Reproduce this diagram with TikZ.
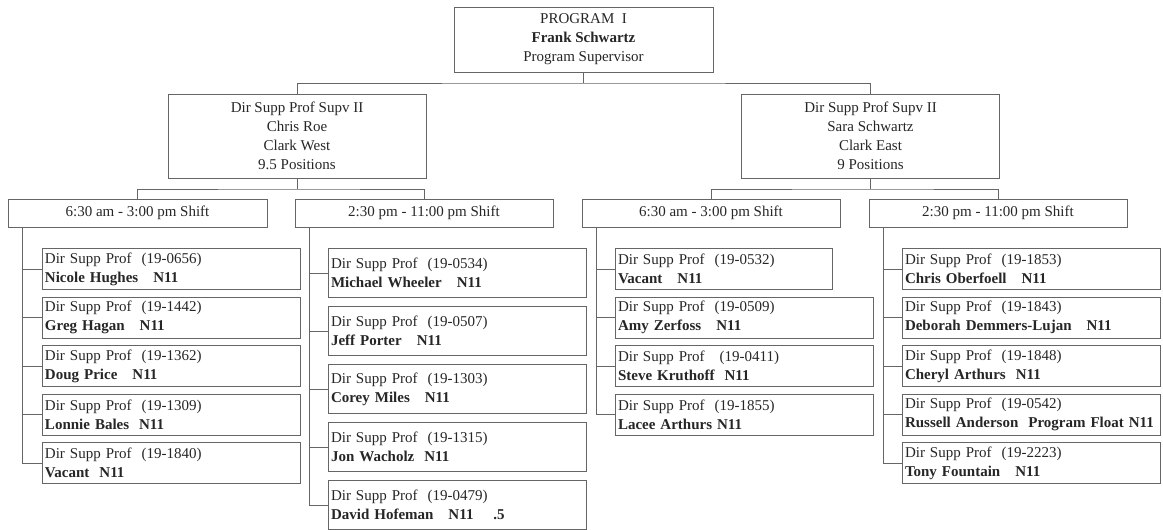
\documentclass[tikz,border=0pt]{standalone}
\usepackage{fontspec}
\setmainfont{Liberation Serif}
\begin{document}
\begin{tikzpicture}[x=1pt,y=-1pt,
  txt/.style={font=\fontsize{15}{19}\selectfont, text=black!85},
  box/.style={txt, draw=black!60, line width=1pt, inner sep=0pt, align=center},
  emp/.style={txt, draw=black!60, line width=1pt, inner xsep=2.5pt, inner ysep=0pt,
              align=left, anchor=north west, minimum height=41pt, text width=253pt},
  tall/.style={minimum height=49pt},
  short/.style={text width=212pt},
  conn/.style={draw=black!60, line width=1pt}]
\useasboundingbox (0,0) rectangle (1163,530);

% top
\node[box, minimum width=259pt, minimum height=65pt] (top) at (583.5,39.5)
  {PROGRAM\ \ I\\\textbf{Frank Schwartz}\\Program Supervisor};
% directors
\node[box, minimum width=258pt, minimum height=84pt] (d1) at (297,136)
  {Dir Supp Prof Supv II\\Chris Roe\\Clark West\\9.5 Positions};
\node[box, minimum width=258pt, minimum height=84pt] (d2) at (870.5,136)
  {Dir Supp Prof Supv II\\Sara Schwartz\\Clark East\\9 Positions};
% shifts
\node[box, minimum width=259pt, minimum height=28pt] (s1) at (137.5,213) {6:30 am - 3:00 pm Shift};
\node[box, minimum width=258pt, minimum height=28pt] (s2) at (424,213) {2:30 pm - 11:00 pm Shift};
\node[box, minimum width=258pt, minimum height=28pt] (s3) at (711,213) {6:30 am - 3:00 pm Shift};
\node[box, minimum width=258pt, minimum height=28pt] (s4) at (998,213) {2:30 pm - 11:00 pm Shift};

% column 1
\node[emp] (e11) at (42,248)   {Dir Supp Prof\ \ (19-0656)\\\textbf{Nicole Hughes\ \ \ N11}};
\node[emp] (e12) at (42,296.5) {Dir Supp Prof\ \ (19-1442)\\\textbf{Greg Hagan\ \ \ N11}};
\node[emp] (e13) at (42,345)   {Dir Supp Prof\ \ (19-1362)\\\textbf{Doug Price\ \ \ N11}};
\node[emp] (e14) at (42,393.5) {Dir Supp Prof\ \ (19-1309)\\\textbf{Lonnie Bales\ \ N11}};
\node[emp] (e15) at (42,442)   {Dir Supp Prof\ \ (19-1840)\\\textbf{Vacant\ \ N11}};
% column 2
\node[emp,tall] (e21) at (328,248) {Dir Supp Prof\ \ (19-0534)\\\textbf{Michael Wheeler\ \ \ N11}};
\node[emp,tall] (e22) at (328,306) {Dir Supp Prof\ \ (19-0507)\\\textbf{Jeff Porter\ \ \ N11}};
\node[emp,tall] (e23) at (328,364) {Dir Supp Prof\ \ (19-1303)\\\textbf{Corey Miles\ \ \ N11}};
\node[emp,tall] (e24) at (328,422) {Dir Supp Prof\ \ (19-1315)\\\textbf{Jon Wacholz\ \ N11}};
\node[emp,tall] (e25) at (328,480) {Dir Supp Prof\ \ (19-0479)\\\textbf{David Hofeman\ \ \ N11\ \ \ \ .5}};
% column 3
\node[emp,short] (e31) at (615,248)   {Dir Supp Prof\ \ (19-0532)\\\textbf{Vacant\ \ \ N11}};
\node[emp] (e32) at (615,296.5) {Dir Supp Prof\ \ (19-0509)\\\textbf{Amy Zerfoss\ \ \ N11}};
\node[emp] (e33) at (615,345)   {Dir Supp Prof\ \ \ (19-0411)\\\textbf{Steve Kruthoff\ \ N11}};
\node[emp] (e34) at (615,393.5) {Dir Supp Prof\ \ (19-1855)\\\textbf{Lacee Arthurs\ N11}};
% column 4
\node[emp] (e41) at (902,248)   {Dir Supp Prof\ \ (19-1853)\\\textbf{Chris Oberfoell\ \ \ N11}};
\node[emp] (e42) at (902,296.5) {Dir Supp Prof\ \ (19-1843)\\\textbf{Deborah Demmers-Lujan\ \ \ N11}};
\node[emp] (e43) at (902,345)   {Dir Supp Prof\ \ (19-1848)\\\textbf{Cheryl Arthurs\ \ N11}};
\node[emp] (e44) at (902,393.5) {Dir Supp Prof\ \ (19-0542)\\\textbf{Russell Anderson\ \ Program Float N11}};
\node[emp] (e45) at (902,442)   {Dir Supp Prof\ \ (19-2223)\\\textbf{Tony Fountain\ \ \ N11}};

% connectors: top level
\coordinate (j0) at (583.5,83);
\draw[conn] (top.south) -- (j0);
\draw[conn] (d1.north) |- (j0) -| (d2.north);
% director to shifts
\path (d1.south) ++(0,10.5) coordinate (j1);
\path (d2.south) ++(0,10.5) coordinate (j2);
\draw[conn] (d1.south) -- (j1);
\draw[conn] (s1.north) |- (j1) -| (s2.north);
\draw[conn] (d2.south) -- (j2);
\draw[conn] (s3.north) |- (j2) -| (s4.north);
% spines
\path (s1.south west) ++(15,0) coordinate (t1);
\path (s2.south west) ++(15,0) coordinate (t2);
\path (s3.south west) ++(15,0) coordinate (t3);
\path (s4.south west) ++(15,0) coordinate (t4);
\draw[conn] (t1) |- (e15.west);
\foreach \k in {1,...,4} \draw[conn] (e1\k.west) -- (e1\k.west -| t1);
\draw[conn] (t2) |- (e25.west);
\foreach \k in {1,...,4} \draw[conn] (e2\k.west) -- (e2\k.west -| t2);
\draw[conn] (t3) |- (e34.west);
\foreach \k in {1,...,3} \draw[conn] (e3\k.west) -- (e3\k.west -| t3);
\draw[conn] (t4) |- (e45.west);
\foreach \k in {1,...,4} \draw[conn] (e4\k.west) -- (e4\k.west -| t4);
\end{tikzpicture}
\end{document}
